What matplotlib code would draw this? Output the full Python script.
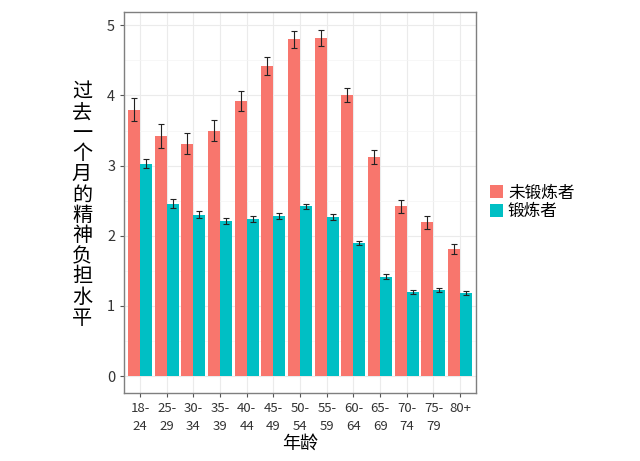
import matplotlib
matplotlib.use("Agg")
import matplotlib.pyplot as plt
import numpy as np

plt.rcParams['font.family'] = ['Noto Sans CJK SC', 'DejaVu Sans']

categories = ["18-\n24", "25-\n29", "30-\n34", "35-\n39", "40-\n44", "45-\n49", "50-\n54",
              "55-\n59", "60-\n64", "65-\n69", "70-\n74", "75-\n79", "80+"]
no_exercise = [3.80, 3.42, 3.31, 3.50, 3.92, 4.42, 4.80, 4.82, 4.01, 3.13, 2.42, 2.19, 1.81]
no_exercise_err = [0.17, 0.17, 0.15, 0.15, 0.14, 0.13, 0.12, 0.11, 0.10, 0.10, 0.09, 0.09, 0.07]
exercise = [3.03, 2.46, 2.30, 2.21, 2.24, 2.28, 2.42, 2.27, 1.90, 1.42, 1.20, 1.23, 1.18]
exercise_err = [0.06, 0.06, 0.05, 0.04, 0.04, 0.04, 0.04, 0.04, 0.03, 0.03, 0.03, 0.03, 0.03]
series_names = ["未锻炼者", "锻炼者"]
ylabel_text = "过去一个月的精神负担水平"
xlabel_text = "年龄"

fig = plt.figure(figsize=(6.4, 4.61), dpi=100)
ax = fig.add_axes([0.194, 0.1475, 0.550, 0.8265])

x = np.arange(1, len(categories) + 1)
w = 0.45
c1, c2 = "#F8766D", "#00BFC4"
ax.bar(x - w/2, no_exercise, width=w, color=c1, label=series_names[0], zorder=2)
ax.bar(x + w/2, exercise, width=w, color=c2, label=series_names[1], zorder=2)
ekw = dict(fmt='none', ecolor='#222222', elinewidth=0.8, capsize=2.2, capthick=0.8, zorder=3)
ax.errorbar(x - w/2, no_exercise, yerr=no_exercise_err, **ekw)
ax.errorbar(x + w/2, exercise, yerr=exercise_err, **ekw)

ax.set_xlim(0.4, len(categories) + 0.6)
ax.set_ylim(-0.24, 5.19)
ax.set_yticks([0, 1, 2, 3, 4, 5])
ax.set_yticks([0.5, 1.5, 2.5, 3.5, 4.5], minor=True)
ax.set_xticks(x)
ax.set_xticklabels(categories, fontsize=9.5, color="#333333", linespacing=1.5)
ax.tick_params(axis='y', labelsize=10.5, colors="#333333")
ax.tick_params(axis='both', which='major', length=3, color="#555555")
ax.tick_params(axis='y', which='minor', length=0)
ax.grid(True, which='major', color="#EBEBEB", linewidth=0.8, zorder=0)
ax.grid(True, which='minor', axis='y', color="#F4F4F4", linewidth=0.5, zorder=0)
ax.set_axisbelow(True)
for s in ax.spines.values():
    s.set_color("#7F7F7F")
    s.set_linewidth(1.0)

ax.set_xlabel(xlabel_text, fontsize=13, labelpad=1)
fig.text(0.128, 0.555, "\n".join(ylabel_text), fontsize=14.5, ha='center', va='center',
         linespacing=0.97)

leg = ax.legend(loc='center left', bbox_to_anchor=(1.01, 0.5), frameon=False,
                fontsize=12, handlelength=0.8, handleheight=0.8, handletextpad=0.3,
                labelspacing=0.1, borderaxespad=0.2)

fig.savefig("out.png", dpi=100)
